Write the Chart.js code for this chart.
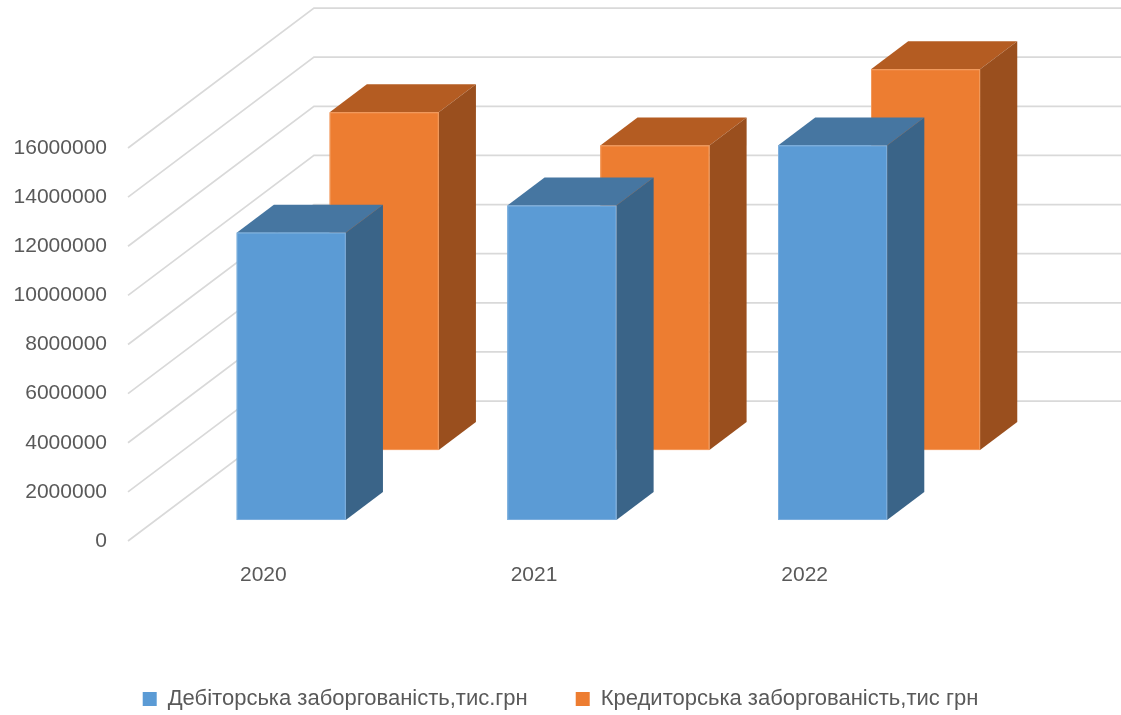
<!DOCTYPE html>
<html>
<head>
<meta charset="utf-8">
<title>Заборгованість</title>
<script src="https://cdn.jsdelivr.net/npm/chart.js@4.4.0/dist/chart.umd.min.js"></script>
<style>
  html, body { margin: 0; padding: 0; background: #fff; }
  #wrap { width: 1121px; height: 715px; }
</style>
</head>
<body>
<div id="wrap"><canvas id="myChart" width="1121" height="715"></canvas></div>
<script>
// values
var years = ['2020', '2021', '2022'];
var debitorska = [11700000, 12800000, 15250000];
var kredytorska = [13750000, 12400000, 15500000];
var seriesNames = ['Дебіторська заборгованість,тис.грн', 'Кредиторська заборгованість,тис грн'];
var yTicks = [0, 2000000, 4000000, 6000000, 8000000, 10000000, 12000000, 14000000, 16000000];

// colours of the faces, z = where the series sits in depth (0 front .. 1 back wall)
var faces = [
  { front: '#5B9BD5', top: '#4676A1', side: '#3A6488', edge: '#7DAFDD', z: 0.15 },
  { front: '#ED7D31', top: '#B45C22', side: '#9A4F1E', edge: '#F29A5C', z: 0.65 }
];

var textColor = '#595959';
var fontFamily = '"Liberation Sans", Arial, sans-serif';

// draws walls + 3d boxes from the scales, native flat bars are skipped
var bars3d = {
  id: 'bars3d',
  beforeDatasetsDraw: function(chart) {
    var ctx = chart.ctx;
    var xs = chart.scales.x;
    var ys = chart.scales.y;
    var slot = xs.getPixelForValue(1) - xs.getPixelForValue(0);
    var dx = slot * 0.687;
    var dy = -slot * 0.517;
    var left = chart.chartArea.left;

    ctx.save();
    ctx.strokeStyle = '#d9d9d9';
    ctx.lineWidth = 1.7;
    yTicks.forEach(function(v) {
      var y = ys.getPixelForValue(v);
      ctx.beginPath();
      ctx.moveTo(left, y);
      ctx.lineTo(left + dx, y + dy);
      ctx.lineTo(chart.width, y + dy);
      ctx.stroke();
    });

    // back series first so the front one covers it
    for (var s = chart.data.datasets.length - 1; s >= 0; s--) {
      var f = faces[s];
      chart.data.datasets[s].data.forEach(function(v, i) {
        var w = slot * 0.403;
        var cx = xs.getPixelForValue(i) + f.z * dx;
        var x0 = cx - w / 2, x1 = cx + w / 2;
        var yb = ys.getPixelForValue(0) + f.z * dy;
        var yt = ys.getPixelForValue(v) + f.z * dy;
        var bx = 0.2 * dx, by = 0.2 * dy;

        // top
        ctx.fillStyle = f.top;
        ctx.beginPath();
        ctx.moveTo(x0, yt);
        ctx.lineTo(x0 + bx, yt + by);
        ctx.lineTo(x1 + bx, yt + by);
        ctx.lineTo(x1, yt);
        ctx.closePath();
        ctx.fill();

        // side
        ctx.fillStyle = f.side;
        ctx.beginPath();
        ctx.moveTo(x1, yt);
        ctx.lineTo(x1 + bx, yt + by);
        ctx.lineTo(x1 + bx, yb + by);
        ctx.lineTo(x1, yb);
        ctx.closePath();
        ctx.fill();

        // front
        ctx.fillStyle = f.front;
        ctx.fillRect(x0, yt, w, yb - yt);
        ctx.strokeStyle = f.edge;
        ctx.lineWidth = 1;
        ctx.strokeRect(x0 + 0.5, yt + 0.5, w - 1, yb - yt - 1);
      });
    }
    ctx.restore();
    return false;
  }
};

var config = {
  type: 'bar',
  data: {
    labels: years,
    datasets: [{
      label: seriesNames[0],
      data: debitorska,
      backgroundColor: faces[0].front,
      borderWidth: 0
    }, {
      label: seriesNames[1],
      data: kredytorska,
      backgroundColor: faces[1].front,
      borderWidth: 0
    }]
  },
  options: {
    responsive: false,
    animation: false,
    layout: {
      padding: { top: 148, right: 0, left: 0, bottom: -5 }
    },
    scales: {
      x: {
        grid: { display: false },
        border: { display: false },
        ticks: { color: textColor, padding: 14, font: { family: fontFamily, size: 21 } },
        afterFit: function(scale) { scale.height = 99; }
      },
      y: {
        min: 0,
        max: 16000000,
        grid: { display: false },
        border: { display: false },
        ticks: {
          stepSize: 2000000,
          color: textColor,
          padding: 13,
          font: { family: fontFamily, size: 21 },
          callback: function(v) { return String(v); }
        },
        afterFit: function(scale) { scale.width = 128; }
      },
      // empty strip on the right, keeps the legend centred on the whole canvas
      yRight: {
        type: 'linear',
        position: 'right',
        grid: { display: false },
        border: { display: false },
        ticks: { display: false },
        afterFit: function(scale) { scale.width = 181; }
      }
    },
    plugins: {
      legend: {
        position: 'bottom',
        labels: {
          color: textColor,
          boxWidth: 14,
          boxHeight: 14,
          padding: 48,
          font: { family: fontFamily, size: 22 }
        }
      },
      tooltip: { enabled: false }
    }
  },
  plugins: [bars3d]
};

var ctx = document.getElementById('myChart').getContext('2d');
var myChart = new Chart(ctx, config);
</script>
</body>
</html>
